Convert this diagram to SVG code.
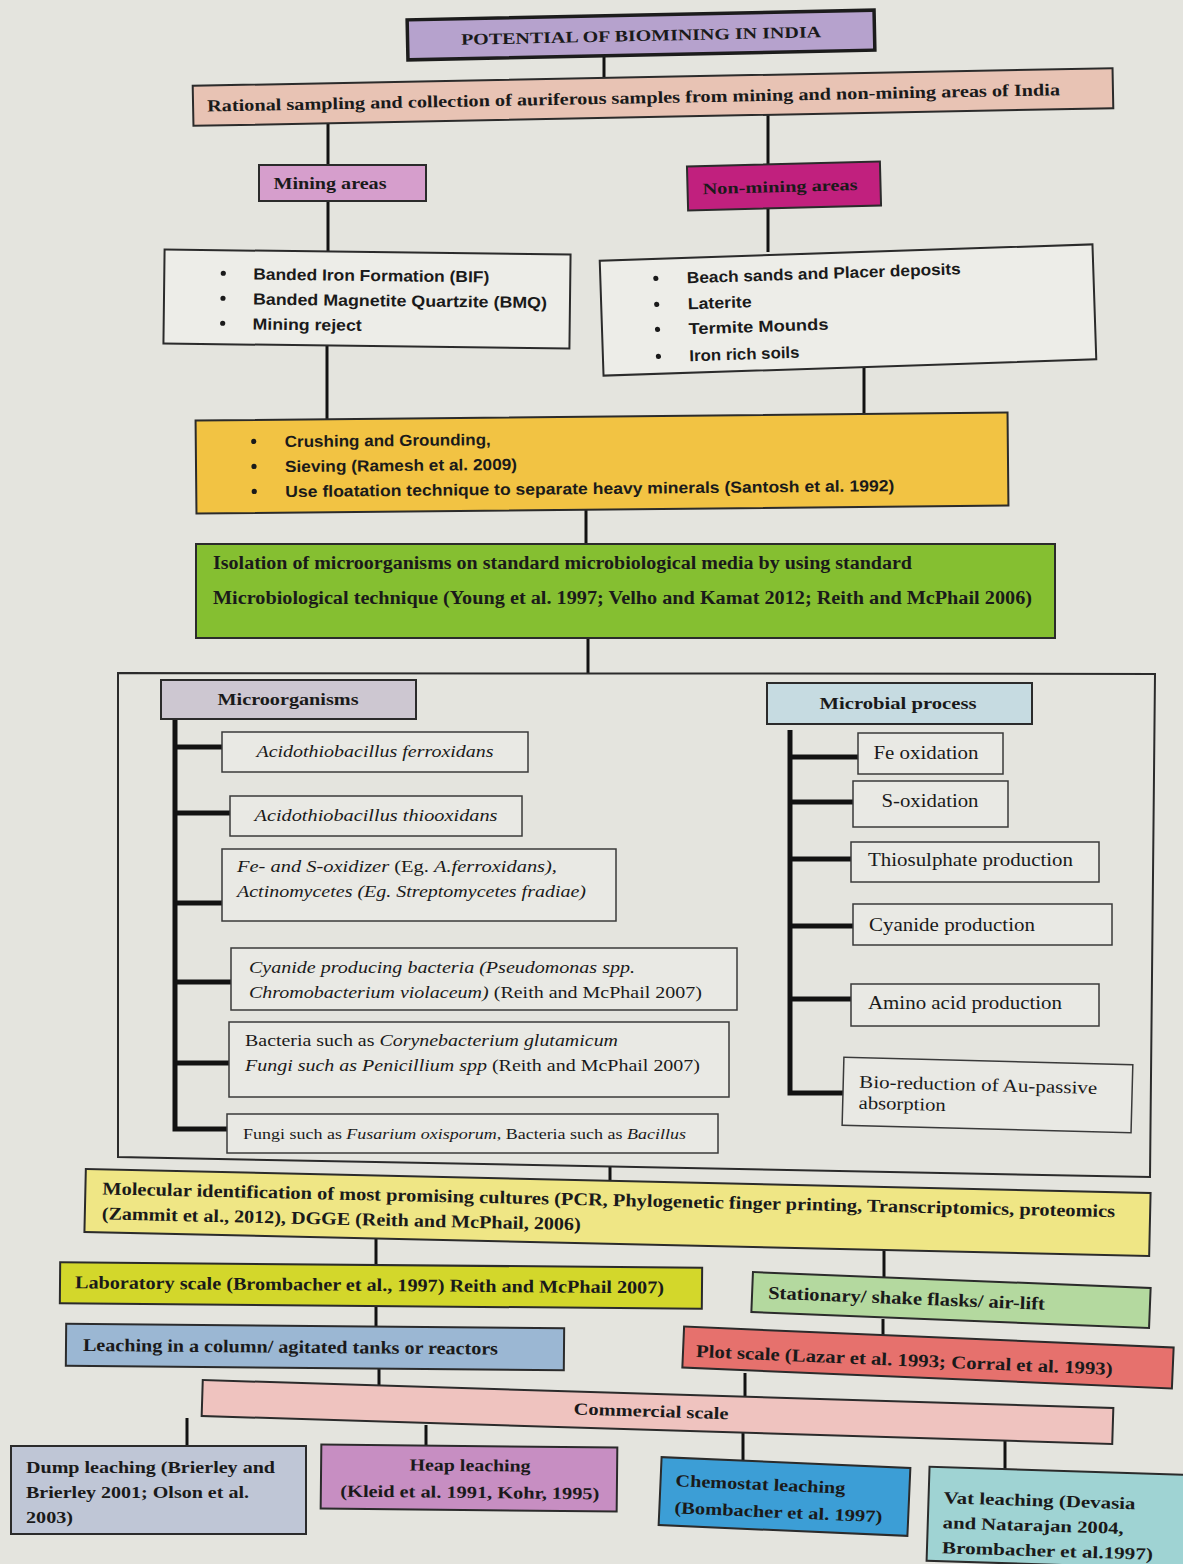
<svg xmlns="http://www.w3.org/2000/svg" width="1183" height="1564" viewBox="0 0 1183 1564">
<defs>
<style>
.bx{stroke:#2b2b2b;stroke-width:2}
.thk{stroke:#1c1c1c;stroke-width:3.5}
.sub{fill:#e9e9e4;stroke:#3a3a3a;stroke-width:1.5}
.ln{stroke:#121212;stroke-width:3;fill:none}
.tk{stroke:#121212;stroke-width:5;fill:none}
.tb{font-family:"Liberation Serif",serif;font-weight:bold;fill:#1a1a1a}
.tr{font-family:"Liberation Serif",serif;fill:#1a1a1a}
.ti{font-family:"Liberation Serif",serif;font-style:italic;fill:#1a1a1a}
.sb{font-family:"Liberation Sans",sans-serif;font-weight:bold;fill:#1a1a1a;font-size:16px}
.it{font-style:italic}
.rm{font-style:normal}
</style>
</defs>
<rect x="0" y="0" width="1183" height="1564" fill="#e4e4de"/>

<g id="connectors">
<line class="ln" x1="604" y1="56" x2="604" y2="79"/>
<line class="ln" x1="328" y1="122" x2="328" y2="166"/>
<line class="ln" x1="768" y1="112" x2="768" y2="167"/>
<line class="ln" x1="328" y1="201" x2="328" y2="253"/>
<line class="ln" x1="768" y1="208" x2="768" y2="252"/>
<line class="ln" x1="327" y1="346" x2="327" y2="419"/>
<line class="ln" x1="864" y1="365" x2="864" y2="415"/>
<line class="ln" x1="586" y1="509" x2="586" y2="545"/>
<line class="ln" x1="588" y1="638" x2="588" y2="674"/>
<line class="ln" x1="610" y1="1166" x2="610" y2="1181"/>
<line class="ln" x1="376" y1="1237" x2="376" y2="1266"/>
<line class="ln" x1="884" y1="1250" x2="884" y2="1281"/>
<line class="ln" x1="376" y1="1306" x2="376" y2="1327"/>
<line class="ln" x1="883" y1="1319" x2="883" y2="1337"/>
<line class="ln" x1="379" y1="1369" x2="379" y2="1391"/>
<line class="ln" x1="745" y1="1373" x2="745" y2="1400"/>
<line class="ln" x1="187" y1="1418" x2="187" y2="1447"/>
<line class="ln" x1="426" y1="1425" x2="426" y2="1447"/>
<line class="ln" x1="743" y1="1432" x2="743" y2="1460"/>
<line class="ln" x1="1005" y1="1441" x2="1005" y2="1474"/>
<!-- microorganisms tree -->
<polyline class="tk" points="175,718 175,1129 227,1129"/>
<line class="tk" x1="175" y1="747" x2="223" y2="747"/>
<line class="tk" x1="175" y1="813" x2="231" y2="813"/>
<line class="tk" x1="175" y1="903" x2="223" y2="903"/>
<line class="tk" x1="175" y1="982" x2="232" y2="982"/>
<line class="tk" x1="175" y1="1063" x2="230" y2="1063"/>
<!-- microbial process tree -->
<polyline class="tk" points="790,730 790,1093 844,1093"/>
<line class="tk" x1="790" y1="757" x2="859" y2="757"/>
<line class="tk" x1="790" y1="802" x2="854" y2="802"/>
<line class="tk" x1="790" y1="859" x2="852" y2="859"/>
<line class="tk" x1="790" y1="926" x2="854" y2="926"/>
<line class="tk" x1="790" y1="999" x2="852" y2="999"/>
</g>

<g id="title" transform="rotate(-1.2 641 35)">
<rect class="thk" x="407.5" y="15" width="467" height="40" fill="#b6a2cd"/>
<text class="tb" x="641" y="41" font-size="16" text-anchor="middle" textLength="360" lengthAdjust="spacingAndGlyphs">POTENTIAL OF BIOMINING IN INDIA</text>
</g>

<g id="sampling" transform="rotate(-1.1 653 97)">
<rect class="bx" x="193" y="77" width="920" height="40" fill="#e8c3b4"/>
<text class="tb" x="207" y="103" font-size="17" textLength="853" lengthAdjust="spacingAndGlyphs">Rational sampling and collection of auriferous samples from mining and non-mining areas of India</text>
</g>

<g id="mining">
<rect class="bx" x="259" y="165" width="167" height="36" fill="#d69ecc"/>
<text class="tb" x="330" y="189" font-size="16" text-anchor="middle" textLength="113" lengthAdjust="spacingAndGlyphs">Mining areas</text>
</g>

<g id="nonmining" transform="rotate(-1.5 784 186)">
<rect class="bx" x="687.5" y="164" width="193" height="44" fill="#c1207e"/>
<text class="tb" x="780" y="192" font-size="16" text-anchor="middle" textLength="155" lengthAdjust="spacingAndGlyphs" fill="#2a0d1d">Non-mining areas</text>
</g>

<g id="mining-list" transform="rotate(0.7 367 299)">
<rect class="bx" x="164" y="252" width="406" height="94" fill="#ededE8"/>
<circle cx="223" cy="275" r="2.6" fill="#1a1a1a"/>
<circle cx="223" cy="300" r="2.6" fill="#1a1a1a"/>
<circle cx="223" cy="325" r="2.6" fill="#1a1a1a"/>
<text class="sb" x="253" y="281" textLength="236" lengthAdjust="spacingAndGlyphs">Banded Iron Formation (BIF)</text>
<text class="sb" x="253" y="306" textLength="294" lengthAdjust="spacingAndGlyphs">Banded Magnetite Quartzite (BMQ)</text>
<text class="sb" x="253" y="331" textLength="109" lengthAdjust="spacingAndGlyphs">Mining reject</text>
</g>

<g id="nonmining-list" transform="rotate(-1.9 848 310)">
<rect class="bx" x="601.5" y="252.5" width="493" height="115" fill="#ededE8"/>
<circle cx="657" cy="272" r="2.6" fill="#1a1a1a"/>
<circle cx="657" cy="298" r="2.6" fill="#1a1a1a"/>
<circle cx="657" cy="323" r="2.6" fill="#1a1a1a"/>
<circle cx="657" cy="350" r="2.6" fill="#1a1a1a"/>
<text class="sb" x="688" y="278" textLength="274" lengthAdjust="spacingAndGlyphs">Beach sands and Placer deposits</text>
<text class="sb" x="688" y="304" textLength="64" lengthAdjust="spacingAndGlyphs">Laterite</text>
<text class="sb" x="688" y="329" textLength="140" lengthAdjust="spacingAndGlyphs">Termite Mounds</text>
<text class="sb" x="688" y="356" textLength="110" lengthAdjust="spacingAndGlyphs">Iron rich soils</text>
</g>

<g id="processing" transform="rotate(-0.56 602 463)">
<rect class="bx" x="196" y="416.5" width="812" height="93" fill="#f2c343"/>
<circle cx="254" cy="438" r="2.6" fill="#1a1a1a"/>
<circle cx="254" cy="463" r="2.6" fill="#1a1a1a"/>
<circle cx="254" cy="488" r="2.6" fill="#1a1a1a"/>
<text class="sb" x="285" y="444" textLength="206" lengthAdjust="spacingAndGlyphs">Crushing and Grounding,</text>
<text class="sb" x="285" y="469" textLength="232" lengthAdjust="spacingAndGlyphs">Sieving (Ramesh et al. 2009)</text>
<text class="sb" x="285" y="494" textLength="609" lengthAdjust="spacingAndGlyphs">Use floatation technique to separate heavy minerals (Santosh et al. 1992)</text>
</g>

<g id="isolation">
<rect class="bx" x="196" y="544" width="859" height="94" fill="#85bf31"/>
<text class="tb" x="213" y="569" font-size="18" textLength="699" lengthAdjust="spacingAndGlyphs">Isolation of microorganisms on standard microbiological media by using standard</text>
<text class="tb" x="213" y="604" font-size="18" textLength="819" lengthAdjust="spacingAndGlyphs">Microbiological technique (Young et al. 1997; Velho and Kamat 2012; Reith and McPhail 2006)</text>
</g>

<g id="container">
<polygon points="118,673 1155,674 1150,1177 118,1157" fill="none" stroke="#2b2b2b" stroke-width="2"/>
</g>

<g id="microorganisms">
<rect class="bx" x="161" y="680" width="255" height="39" fill="#cdc7d1"/>
<text class="tb" x="288" y="705" font-size="17" text-anchor="middle" textLength="141" lengthAdjust="spacingAndGlyphs">Microorganisms</text>
</g>
<g id="mo-a">
<rect class="sub" x="222" y="732" width="306" height="40"/>
<text class="ti" x="375" y="757" font-size="17" text-anchor="middle" textLength="237" lengthAdjust="spacingAndGlyphs">Acidothiobacillus ferroxidans</text>
</g>
<g id="mo-b">
<rect class="sub" x="230" y="796" width="292" height="40"/>
<text class="ti" x="376" y="821" font-size="17" text-anchor="middle" textLength="243" lengthAdjust="spacingAndGlyphs">Acidothiobacillus  thiooxidans</text>
</g>
<g id="mo-c">
<rect class="sub" x="222" y="849" width="394" height="72"/>
<text class="ti" x="237" y="872" font-size="17" textLength="320" lengthAdjust="spacingAndGlyphs">Fe- and S-oxidizer <tspan class="rm">(Eg. </tspan>A.ferroxidans),</text>
<text class="ti" x="237" y="897" font-size="17" textLength="349" lengthAdjust="spacingAndGlyphs">Actinomycetes (Eg. Streptomycetes fradiae)</text>
</g>
<g id="mo-d">
<rect class="sub" x="231" y="948" width="506" height="62"/>
<text class="ti" x="249" y="973" font-size="17" textLength="386" lengthAdjust="spacingAndGlyphs">Cyanide producing bacteria (Pseudomonas spp.</text>
<text class="ti" x="249" y="998" font-size="17" textLength="453" lengthAdjust="spacingAndGlyphs">Chromobacterium violaceum) <tspan class="rm">(Reith and McPhail 2007)</tspan></text>
</g>
<g id="mo-e">
<rect class="sub" x="229" y="1022" width="500" height="75"/>
<text class="tr" x="245" y="1046" font-size="17" textLength="373" lengthAdjust="spacingAndGlyphs">Bacteria such as <tspan class="it">Corynebacterium glutamicum</tspan></text>
<text class="ti" x="245" y="1071" font-size="17" textLength="455" lengthAdjust="spacingAndGlyphs">Fungi such as Penicillium spp <tspan class="rm">(Reith and McPhail 2007)</tspan></text>
</g>
<g id="mo-f">
<rect class="sub" x="227" y="1114" width="491" height="39"/>
<text class="tr" x="243" y="1139" font-size="15" textLength="443" lengthAdjust="spacingAndGlyphs">Fungi such as <tspan class="it">Fusarium oxisporum</tspan>, Bacteria such as <tspan class="it">Bacillus</tspan></text>
</g>

<g id="microbial-process">
<rect class="bx" x="767" y="683" width="265" height="41" fill="#c6dbe1"/>
<text class="tb" x="898" y="709" font-size="17" text-anchor="middle" textLength="157" lengthAdjust="spacingAndGlyphs">Microbial process</text>
</g>
<g id="mp-fe">
<rect class="sub" x="858" y="733" width="145" height="41"/>
<text class="tr" x="926" y="759" font-size="18" text-anchor="middle" textLength="105" lengthAdjust="spacingAndGlyphs">Fe oxidation</text>
</g>
<g id="mp-s">
<rect class="sub" x="853" y="781" width="155" height="46"/>
<text class="tr" x="930" y="807" font-size="18" text-anchor="middle" textLength="97" lengthAdjust="spacingAndGlyphs">S-oxidation</text>
</g>
<g id="mp-thio">
<rect class="sub" x="851" y="842" width="248" height="40"/>
<text class="tr" x="868" y="866" font-size="18" textLength="205" lengthAdjust="spacingAndGlyphs">Thiosulphate production</text>
</g>
<g id="mp-cn">
<rect class="sub" x="853" y="904" width="259" height="41"/>
<text class="tr" x="869" y="931" font-size="18" textLength="166" lengthAdjust="spacingAndGlyphs">Cyanide production</text>
</g>
<g id="mp-amino">
<rect class="sub" x="851" y="984" width="248" height="42"/>
<text class="tr" x="868" y="1009" font-size="18" textLength="194" lengthAdjust="spacingAndGlyphs">Amino acid production</text>
</g>
<g id="mp-bio" transform="rotate(1.5 987 1094)">
<rect class="sub" x="843" y="1061" width="289" height="68"/>
<text class="tr" x="859" y="1091" font-size="18" textLength="238" lengthAdjust="spacingAndGlyphs">Bio-reduction of Au-passive</text>
<text class="tr" x="859" y="1112" font-size="18" textLength="87" lengthAdjust="spacingAndGlyphs">absorption</text>
</g>

<g id="molecular" transform="rotate(1.29 617.5 1212.5)">
<rect class="bx" x="85" y="1181" width="1065" height="63" fill="#efe685"/>
<text class="tb" x="102" y="1206" font-size="18" textLength="1013" lengthAdjust="spacingAndGlyphs">Molecular identification of most promising cultures (PCR, Phylogenetic finger printing, Transcriptomics, proteomics</text>
<text class="tb" x="102" y="1231" font-size="18" textLength="479" lengthAdjust="spacingAndGlyphs">(Zammit et al., 2012), DGGE (Reith and McPhail, 2006)</text>
</g>

<g id="laboratory" transform="rotate(0.5 381 1285.5)">
<rect class="bx" x="60" y="1265" width="642" height="41" fill="#d3d72b"/>
<text class="tb" x="75" y="1291" font-size="18" textLength="589" lengthAdjust="spacingAndGlyphs">Laboratory scale (Brombacher et al., 1997) Reith and McPhail 2007)</text>
</g>

<g id="stationary" transform="rotate(2.3 951 1300)">
<rect class="bx" x="752" y="1280" width="398" height="40" fill="#b4d99f"/>
<text class="tb" x="768" y="1306" font-size="18" textLength="277" lengthAdjust="spacingAndGlyphs">Stationary/ shake flasks/ air-lift</text>
</g>

<g id="leaching" transform="rotate(0.5 315 1347)">
<rect class="bx" x="66" y="1326" width="498" height="42" fill="#9bb7d3"/>
<text class="tb" x="83" y="1353" font-size="18" textLength="415" lengthAdjust="spacingAndGlyphs">Leaching in a column/ agitated tanks or reactors</text>
</g>

<g id="plot" transform="rotate(2.45 928 1357.5)">
<rect class="bx" x="683" y="1337" width="490" height="41" fill="#e6716d"/>
<text class="tb" x="696" y="1367" font-size="18" textLength="417" lengthAdjust="spacingAndGlyphs">Plot scale (Lazar et al. 1993; Corral et al. 1993)</text>
</g>

<g id="commercial" transform="rotate(1.76 657.5 1412)">
<rect class="bx" x="202" y="1394" width="911" height="36" fill="#efc3bf"/>
<text class="tb" x="651" y="1417" font-size="17" text-anchor="middle" textLength="155" lengthAdjust="spacingAndGlyphs">Commercial scale</text>
</g>

<g id="dump">
<rect class="bx" x="11" y="1446" width="295" height="88" fill="#bfc6d6"/>
<text class="tb" x="26" y="1473" font-size="17" textLength="249" lengthAdjust="spacingAndGlyphs">Dump leaching (Brierley and</text>
<text class="tb" x="26" y="1498" font-size="17" textLength="223" lengthAdjust="spacingAndGlyphs">Brierley 2001; Olson et al.</text>
<text class="tb" x="26" y="1523" font-size="17" textLength="47" lengthAdjust="spacingAndGlyphs">2003)</text>
</g>

<g id="heap" transform="rotate(0.6 469 1478)">
<rect class="bx" x="321" y="1446" width="296" height="64" fill="#c78ec2"/>
<text class="tb" x="470" y="1471" font-size="17" text-anchor="middle" textLength="121" lengthAdjust="spacingAndGlyphs">Heap leaching</text>
<text class="tb" x="470" y="1498" font-size="17" text-anchor="middle" textLength="259" lengthAdjust="spacingAndGlyphs">(Kleid et al. 1991, Kohr, 1995)</text>
</g>

<g id="chemostat" transform="rotate(2.5 784.5 1496.5)">
<rect class="bx" x="660" y="1462.5" width="249" height="68" fill="#3c9ed6"/>
<text class="tb" x="675" y="1491" font-size="17" textLength="170" lengthAdjust="spacingAndGlyphs">Chemostat leaching</text>
<text class="tb" x="675" y="1518" font-size="17" textLength="208" lengthAdjust="spacingAndGlyphs">(Bombacher et al. 1997)</text>
</g>

<g id="vat" transform="rotate(1.8 1063 1518)">
<rect class="bx" x="928" y="1471" width="270" height="94" fill="#9fd3d3"/>
<text class="tb" x="943" y="1507" font-size="17" textLength="192" lengthAdjust="spacingAndGlyphs">Vat leaching (Devasia</text>
<text class="tb" x="943" y="1532" font-size="17" textLength="181" lengthAdjust="spacingAndGlyphs">and Natarajan 2004,</text>
<text class="tb" x="943" y="1557" font-size="17" textLength="211" lengthAdjust="spacingAndGlyphs">Brombacher et al.1997)</text>
</g>
</svg>
